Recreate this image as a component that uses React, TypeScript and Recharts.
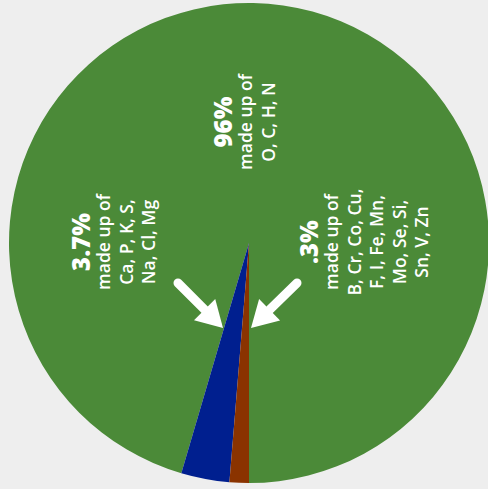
import React from 'react';
import { PieChart, Pie, Cell } from 'recharts';

// labels and shares as printed on the chart
const groups = ['O, C, H, N', 'Ca, P, K, S, Na, Cl, Mg', 'B, Cr, Co, Cu, F, I, Fe, Mn, Mo, Se, Si, Sn, V, Zn'];
const printedShares = ['96%', '3.7%', '.3%'];
// slice sizes as drawn (the picture does not draw them to scale)
const drawnShares = [95.45, 3.25, 1.3];
const colors = ['#4b8a38', '#001f8f', '#8a3300'];

const detailLines = [
  ['made up of', 'O, C, H, N'],
  ['made up of', 'Ca, P, K, S,', 'Na, Cl, Mg'],
  ['made up of', 'B, Cr, Co, Cu,', 'F, I, Fe, Mn,', 'Mo, Se, Si,', 'Sn, V, Zn'],
];

const data = groups.map((g, i) => ({ name: g, label: printedShares[i], value: drawnShares[i] }));

const CX = 249;
const CY = 243;
const FONT = '"Open Sans", Lato, sans-serif';

// block placement: center line (screen y) and x of first line
const blocks = [
  { y: 122, x0: 222 },
  { y: 242, x0: 80 },
  { y: 242, x0: 308 },
];
const LINE = 22.6;

const Arrow = ({ x1, y1, x2, y2 }: { x1: number; y1: number; x2: number; y2: number }) => {
  const ang = Math.atan2(y2 - y1, x2 - x1);
  const headLen = 26;
  const headW = 15;
  const bx = x2 - Math.cos(ang) * headLen;
  const by = y2 - Math.sin(ang) * headLen;
  const px = -Math.sin(ang) * headW;
  const py = Math.cos(ang) * headW;
  return (
    <g>
      <line x1={x1} y1={y1} x2={bx} y2={by} stroke="#fff" strokeWidth={9} strokeLinecap="round" />
      <polygon points={`${x2},${y2} ${bx + px},${by + py} ${bx - px},${by - py}`} fill="#fff" />
    </g>
  );
};

const Annotations = () => (
  <svg width={488} height={489} style={{ position: 'absolute', left: 0, top: 0, pointerEvents: 'none' }}>
    {blocks.map((b, i) => (
      <g key={i} transform={`translate(0, ${b.y}) rotate(-90)`}>
        <text x={0} y={b.x0} textAnchor="middle" dominantBaseline="central" fill="#fff"
          fontFamily={FONT} fontWeight={800} fontSize={24}>
          {printedShares[i]}
        </text>
        {detailLines[i].map((l, j) => (
          <text key={j} x={0} y={b.x0 + 23 + j * LINE} textAnchor="middle" dominantBaseline="central"
            fill="#fff" fontFamily={FONT} fontWeight={600} fontSize={17.5}>
            {l}
          </text>
        ))}
      </g>
    ))}
    <Arrow x1={CX - 71} y1={CY + 40} x2={CX - 26} y2={CY + 85} />
    <Arrow x1={CX + 48} y1={CY + 40} x2={CX + 2} y2={CY + 85} />
  </svg>
);

export default function App() {
  return (
    <div style={{ position: 'absolute', left: 0, top: 0, width: 488, height: 489, background: '#eeeeee', overflow: 'hidden' }}>
      <PieChart width={488} height={489} margin={{ top: 0, right: 0, bottom: 0, left: 0 }}>
        <Pie
          data={data}
          dataKey="value"
          nameKey="name"
          cx={CX}
          cy={CY}
          outerRadius={240}
          startAngle={-90}
          endAngle={270}
          stroke="none"
          isAnimationActive={false}
        >
          {data.map((d, i) => (
            <Cell key={d.name} fill={colors[i]} />
          ))}
        </Pie>
      </PieChart>
      <Annotations />
    </div>
  );
}
